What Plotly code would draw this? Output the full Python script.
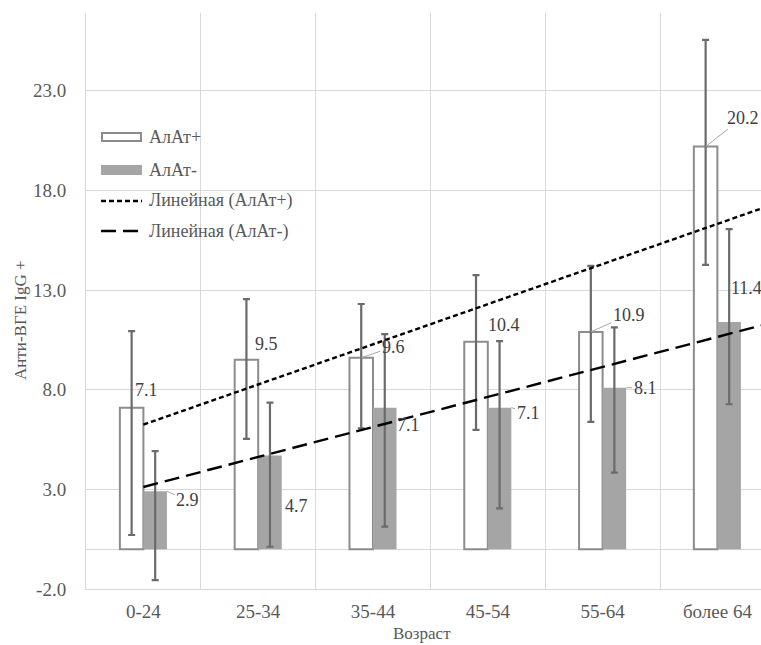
import numpy as np
import plotly.graph_objects as go

# Age groups and mean anti-BGE IgG+ levels for the two ALT groups
categories = ["0-24", "25-34", "35-44", "45-54", "55-64", "более 64"]
alat_pos = [7.1, 9.5, 9.6, 10.4, 10.9, 20.2]
alat_neg = [2.9, 4.7, 7.1, 7.1, 8.1, 11.4]

# Upper and lower ends of the error bars
alat_pos_hi = [10.94, 12.54, 12.30, 13.75, 14.21, 25.55]
alat_pos_lo = [0.71, 5.53, 6.06, 5.98, 6.39, 14.26]
alat_neg_hi = [4.92, 7.35, 10.79, 10.44, 11.13, 16.06]
alat_neg_lo = [-1.55, 0.12, 1.13, 2.05, 3.84, 7.27]

# Value-axis ticks
y_ticks = [-2.0, 3.0, 8.0, 13.0, 18.0, 23.0]

series_names = ["АлАт+", "АлАт-", "Линейная (АлАт+)", "Линейная (АлАт-)"]

x = np.arange(1, len(categories) + 1)

FONT = "Liberation Serif"
GRID = "#d9d9d9"
TXT = "#595959"
ERR = "#6b6b6b"
PLUS_EDGE = "#8c8c8c"
MINUS_FILL = "#a5a5a5"
DOT = "5px,3px"
LDASH = "15px,7px"

# Plot area in pixels
L, R, T, B = 86, 761, 13, 589
W, H = R - L, B - T


def px_x(p):
    return (p - L) / W


def px_y(p):
    return (B - p) / H


fig = go.Figure()

fig.add_trace(go.Bar(
    x=x, y=alat_pos, name=series_names[0],
    marker=dict(color="white", line=dict(color=PLUS_EDGE, width=2)),
    error_y=dict(type="data", symmetric=False,
                 array=np.array(alat_pos_hi) - np.array(alat_pos),
                 arrayminus=np.array(alat_pos) - np.array(alat_pos_lo),
                 color=ERR, thickness=2.2, width=3.5),
))
fig.add_trace(go.Bar(
    x=x, y=alat_neg, name=series_names[1],
    marker=dict(color=MINUS_FILL, line=dict(width=0)),
    error_y=dict(type="data", symmetric=False,
                 array=np.array(alat_neg_hi) - np.array(alat_neg),
                 arrayminus=np.array(alat_neg) - np.array(alat_neg_lo),
                 color=ERR, thickness=2.2, width=3.5),
))

# Linear trendlines fitted over the category index, extended half a step forward
xt = np.array([1.0, len(categories) + 0.5])
for vals, name, dash in [
    (alat_pos, series_names[2], DOT),
    (alat_neg, series_names[3], LDASH),
]:
    k, b = np.polyfit(x, vals, 1)
    fig.add_trace(go.Scatter(
        x=xt, y=k * xt + b, mode="lines", name=name,
        line=dict(color="black", width=2.4, dash=dash),
        hoverinfo="skip",
    ))

BW = 0.205  # bar width in category units

# Data labels: (dx, dy, leader) offsets in pixels from the anchor point
pos_off = [(15, -18, False), (20, -16, False), (32, -11, True),
           (28, -17, False), (38, -17, True), (37, -29, True)]
neg_off = [(21, 9, True), (15, 51, False), (12, 17, False),
           (17, 5, True), (19, 0, True), (6, -34, False)]

annotations = []
for vals, offs, xoff in [(alat_pos, pos_off, -BW / 2), (alat_neg, neg_off, BW)]:
    for i, v in enumerate(vals):
        dx, dy, lead = offs[i]
        annotations.append(dict(
            x=x[i] + xoff, y=v, xref="x", yref="y", text=f"{v:.1f}",
            showarrow=lead, arrowhead=0, arrowwidth=1, arrowcolor="#a6a6a6",
            ax=dx, ay=dy, standoff=0,
            xshift=0 if lead else dx, yshift=0 if lead else -dy,
            font=dict(family=FONT, size=18, color="#404040"),
        ))

# Axis titles
annotations.append(dict(
    text="Анти-ВГЕ IgG +", xref="paper", yref="paper",
    x=px_x(20), y=px_y(320), textangle=-90,
    xanchor="center", yanchor="middle", showarrow=False,
    font=dict(family=FONT, size=17, color=TXT),
))
annotations.append(dict(
    text="Возраст", xref="paper", yref="paper",
    x=px_x(422), y=px_y(633),
    xanchor="center", yanchor="middle", showarrow=False,
    font=dict(family=FONT, size=17, color=TXT),
))

# Legend drawn in the upper-left corner of the plot area
shapes = []
leg_rows = [137, 170, 201, 231]
ix0, ix1, tx = 102, 141, 147
shapes.append(dict(type="rect", xref="paper", yref="paper",
                   x0=px_x(ix0), x1=px_x(ix1), y0=px_y(leg_rows[0] + 4), y1=px_y(leg_rows[0] - 4),
                   fillcolor="white", line=dict(color=PLUS_EDGE, width=2)))
shapes.append(dict(type="rect", xref="paper", yref="paper",
                   x0=px_x(ix0 - 1), x1=px_x(ix1 + 1), y0=px_y(leg_rows[1] + 5), y1=px_y(leg_rows[1] - 5),
                   fillcolor=MINUS_FILL, line=dict(width=0)))
for row, dash in [(leg_rows[2], DOT), (leg_rows[3], LDASH)]:
    shapes.append(dict(type="line", xref="paper", yref="paper",
                       x0=px_x(ix0 - 1), x1=px_x(ix1 + 1), y0=px_y(row), y1=px_y(row),
                       line=dict(color="black", width=2.4, dash=dash)))
for row, name in zip(leg_rows, series_names):
    annotations.append(dict(
        text=name, xref="paper", yref="paper", x=px_x(tx), y=px_y(row),
        xanchor="left", yanchor="middle", showarrow=False,
        font=dict(family=FONT, size=18, color=TXT),
    ))

fig.update_layout(
    width=761, height=645,
    margin=dict(l=L, r=761 - R, t=T, b=645 - B),
    paper_bgcolor="white", plot_bgcolor="white",
    barmode="group", bargap=1 - 2 * BW, bargroupgap=0,
    font=dict(family=FONT, color=TXT),
    showlegend=False,
    annotations=annotations,
    shapes=shapes,
)

fig.update_xaxes(
    range=[0.5, 0.5 + W / 114.8],
    tickmode="array", tickvals=x, ticktext=categories,
    showgrid=False, zeroline=False,
    showline=True, linecolor=GRID, linewidth=1,
    ticks="", ticklabelstandoff=5,
    tickfont=dict(family=FONT, size=19, color=TXT),
    minor=dict(tickmode="array", tickvals=list(np.arange(0.5, len(categories) + 1, 1.0)),
               showgrid=True, gridcolor=GRID, gridwidth=1.2, ticks=""),
)
fig.update_yaxes(
    range=[-2, 26.9],
    tickmode="array", tickvals=y_ticks, ticktext=[f"{v:.1f}" for v in y_ticks],
    showgrid=True, gridcolor=GRID, gridwidth=1.2,
    zeroline=True, zerolinecolor=GRID, zerolinewidth=1.2,
    showline=True, linecolor=GRID, linewidth=1,
    ticks="", ticklabelstandoff=15,
    tickfont=dict(family=FONT, size=19, color=TXT),
)

fig.write_html("out.html")
